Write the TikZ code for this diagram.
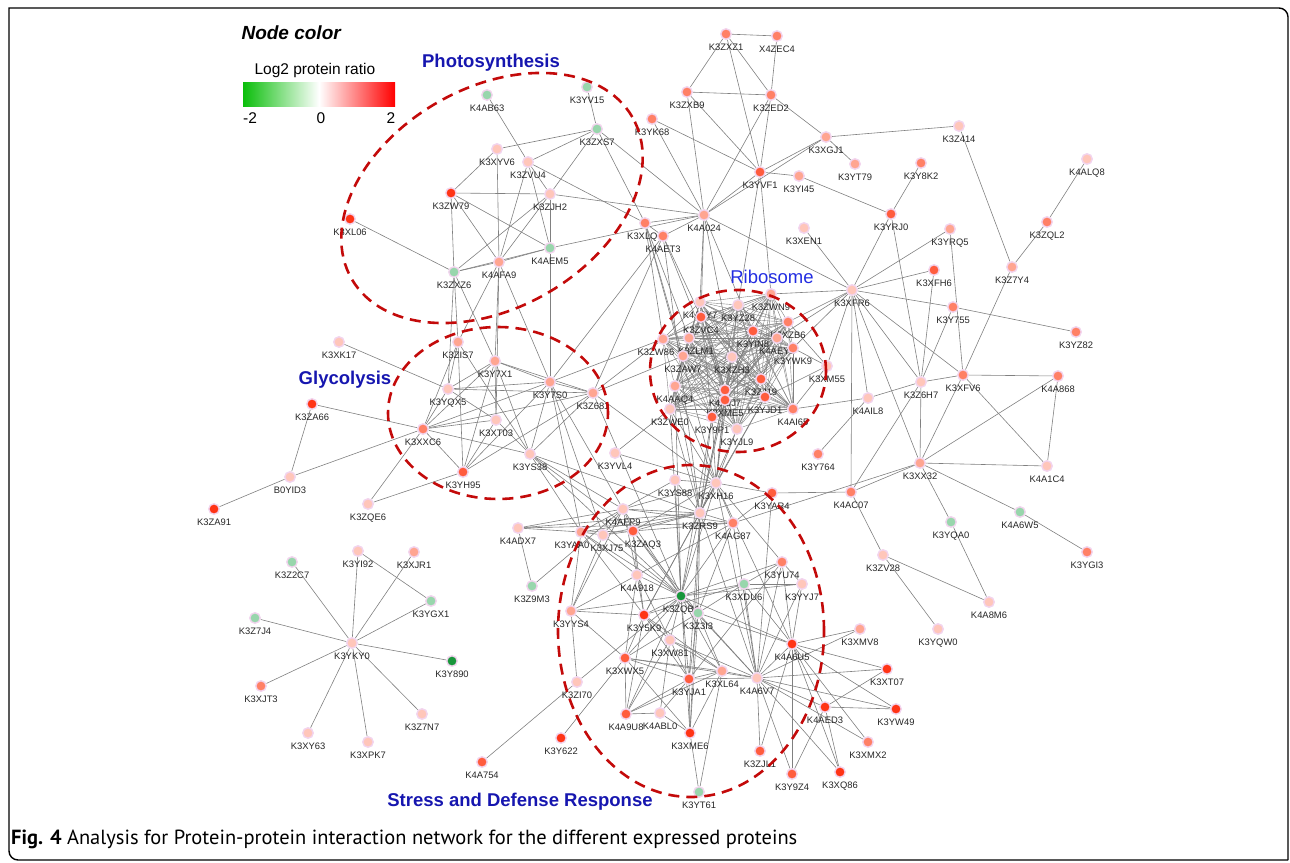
\documentclass[tikz,border=0pt]{standalone}
\usepackage{fontspec}
\setmainfont{Liberation Sans}
\newfontfamily\capfont{PT Sans}
\usepackage{graphicx}
\usetikzlibrary{backgrounds}

\definecolor{up1}{RGB}{255,198,186}
\definecolor{up2}{RGB}{255,165,145}
\definecolor{up3}{RGB}{255,128,102}
\definecolor{up4}{RGB}{255,92,62}
\definecolor{up5}{RGB}{255,52,22}
\definecolor{dn1}{RGB}{152,214,172}
\definecolor{dn2}{RGB}{25,150,60}
\definecolor{halo}{RGB}{242,212,238}
\definecolor{linkgray}{RGB}{128,128,128}
\definecolor{grpred}{RGB}{195,10,10}
\definecolor{titleblue}{RGB}{22,22,175}
\definecolor{riboblue}{RGB}{35,45,225}
\definecolor{lgreen}{RGB}{10,190,10}

\newcommand{\ribolist}{K4A3Y7,K3ZVC4,K3YZ28,K3ZWN9,K3XZB6,K3YIN8,K3ZW86,K3ZLM1,K4AEY1,K3YWK9,K3ZAW7,K3XZH3,K4AAQ4,K3ZJ19,K4AJJ7,K3XME5,K3YJD1,K3ZWE0,K4AI65,K3Y9P1,K3YJL9}

\begin{document}
\begin{tikzpicture}[
			x=1pt, y=-1pt,
			prot/.style={circle, draw=halo, line width=1.4pt, minimum size=10.5pt, inner sep=0pt},
			r1/.style={fill=up1}, r2/.style={fill=up2}, r3/.style={fill=up3},
			r4/.style={fill=up4}, r5/.style={fill=up5},
			g1/.style={fill=dn1}, g2/.style={fill=dn2},
			every label/.style={font=\fontsize{9.4}{10}\selectfont, inner sep=0pt, text=black!85},
			label distance=4pt,
			link/.style={draw=linkgray, line width=0.6pt},
			grp/.style={draw=grpred, line width=2.6pt, dash pattern=on 11pt off 7pt},
			title/.style={font=\fontsize{18.5}{20}\selectfont\bfseries, text=titleblue},
			frame/.style={draw=black, line width=1.4pt}
			]
			\useasboundingbox (0,0) rectangle (1290,862);
			
			% Frame
			\draw[frame] (9,851) -- (9,8) -- (1279,8) arc[start angle=90, end angle=0, radius=9pt] -- (1288,860);
			\draw[frame] (9,851) arc[start angle=180, end angle=270, radius=9pt] -- (1288,860);
			
			% Legend
			\node[anchor=west, font=\fontsize{19}{20}\selectfont\bfseries\itshape] (legtitle) at (238,33) {Node color};
			\node[anchor=west, font=\fontsize{15.5}{16}\selectfont] (legname) at (251,70) {Log2 protein ratio};
			\shade[left color=lgreen, right color=red, middle color=white] (243,82) rectangle (395,106);
			\node[font=\fontsize{15.5}{16}\selectfont] (legmin) at (250,118) {-2};
			\node[font=\fontsize{15.5}{16}\selectfont] (legmid) at (321,118) {0};
			\node[font=\fontsize{15.5}{16}\selectfont] (legmax) at (391,118) {2};
			
			% Photosynthesis
			\node[prot, g1, label=below:K4AB63] (K4AB63) at (487,95) {};
			\node[prot, g1, label=below:K3YV15] (K3YV15) at (587,87) {};
			\node[prot, g1, label=below:K3ZXS7] (K3ZXS7) at (597,129) {};
			\node[prot, r1, label=below:K3XYV6] (K3XYV6) at (497,149) {};
			\node[prot, r1, label=below:K3ZVU4] (K3ZVU4) at (528,162) {};
			\node[prot, r5, label=below:K3ZW79] (K3ZW79) at (451,193) {};
			\node[prot, r1, label=below:K3ZJH2] (K3ZJH2) at (550,194) {};
			\node[prot, r5, label=below:K3XL06] (K3XL06) at (350,219) {};
			\node[prot, g1, label=below:K4AEM5] (K4AEM5) at (550,248) {};
			\node[prot, r2, label=below:K4AFA9] (K4AFA9) at (499,262) {};
			\node[prot, g1, label=below:K3ZXZ6] (K3ZXZ6) at (454,272) {};
			
			% Top hub
			\node[prot, r3, label=below:K3ZXZ1] (K3ZXZ1) at (726,34) {};
			\node[prot, r3, label=below:X4ZEC4] (X4ZEC4) at (777,36) {};
			\node[prot, r3, label=below:K3ZXB9] (K3ZXB9) at (687,92) {};
			\node[prot, r3, label=below:K3ZED2] (K3ZED2) at (771,95) {};
			\node[prot, r3, label=below:K3YK68] (K3YK68) at (652,119) {};
			\node[prot, r2, label=below:K3XGJ1] (K3XGJ1) at (826,137) {};
			\node[prot, r2, label=below:K3YT79] (K3YT79) at (855,164) {};
			\node[prot, r4, label=below:K3YVF1] (K3YVF1) at (760,172) {};
			\node[prot, r2, label=below:K3YI45] (K3YI45) at (799,176) {};
			\node[prot, r2, label=below:K4A024] (K4A024) at (704,215) {};
			\node[prot, r3, label=below:K3XLQ2] (K3XLQ2) at (645,223) {};
			\node[prot, r3, label=below:K4AET3] (K4AET3) at (663,236) {};
			\node[prot, r1, label=below:K3XEN1] (K3XEN1) at (804,228) {};
			
			% Right branch
			\node[prot, r1, label=below:K3Z414] (K3Z414) at (959,126) {};
			\node[prot, r3, label=below:K3Y8K2] (K3Y8K2) at (921,163) {};
			\node[prot, r1, label=below:K4ALQ8] (K4ALQ8) at (1087,159) {};
			\node[prot, r4, label=below:K3YRJ0] (K3YRJ0) at (891,214) {};
			\node[prot, r3, label=below:K3ZQL2] (K3ZQL2) at (1047,222) {};
			\node[prot, r2, label=below:K3YRQ5] (K3YRQ5) at (950,229) {};
			\node[prot, r4, label=below:K3XFH6] (K3XFH6) at (934,270) {};
			\node[prot, r2, label=below:K3Z7Y4] (K3Z7Y4) at (1012,267) {};
			\node[prot, r1, label=below:K3XFR6] (K3XFR6) at (852,290) {};
			\node[prot, r3, label=below:K3Y755] (K3Y755) at (953,307) {};
			\node[prot, r3, label=below:K3YZ82] (K3YZ82) at (1076,332) {};
			\node[prot, r1, label=below:K3XM55] (K3XM55) at (827,366) {};
			\node[prot, r3, label=below:K3XFV6] (K3XFV6) at (963,375) {};
			\node[prot, r3, label=below:K4A868] (K4A868) at (1058,376) {};
			\node[prot, r1, label=below:K3Z6H7] (K3Z6H7) at (921,382) {};
			\node[prot, r1, label=below:K4AIL8] (K4AIL8) at (868,398) {};
			\node[prot, r3, label=below:K3Y764] (K3Y764) at (818,454) {};
			\node[prot, r2, label=below:K3XX32] (K3XX32) at (920,463) {};
			\node[prot, r1, label=below:K4A1C4] (K4A1C4) at (1047,466) {};
			\node[prot, r3, label=below:K4AC07] (K4AC07) at (851,492) {};
			\node[prot, g1, label=below:K4A6W5] (K4A6W5) at (1020,512) {};
			\node[prot, g1, label=below:K3YQA0] (K3YQA0) at (951,522) {};
			\node[prot, r3, label=below:K3YGI3] (K3YGI3) at (1087,552) {};
			\node[prot, r1, label=below:K3ZV28] (K3ZV28) at (883,555) {};
			\node[prot, r1, label=below:K4A8M6] (K4A8M6) at (989,602) {};
			\node[prot, r1, label=below:K3YQW0] (K3YQW0) at (938,629) {};
			
			% Glycolysis
			\node[prot, r1, label=below:K3XK17] (K3XK17) at (339,342) {};
			\node[prot, r2, label=below:K3ZIS7] (K3ZIS7) at (458,342) {};
			\node[prot, r2, label=below:K3Y7X1] (K3Y7X1) at (495,361) {};
			\node[prot, r2, label=below:K3Y7S0] (K3Y7S0) at (550,382) {};
			\node[prot, r1, label=below:K3YQX5] (K3YQX5) at (448,389) {};
			\node[prot, r2, label=below:K3Z681] (K3Z681) at (593,393) {};
			\node[prot, r5, label=below:K3ZA66] (K3ZA66) at (312,404) {};
			\node[prot, r1, label=below:K3XT03] (K3XT03) at (496,420) {};
			\node[prot, r3, label=below:K3XXC6] (K3XXC6) at (423,429) {};
			\node[prot, r1, label=below:K3YS38] (K3YS38) at (530,454) {};
			\node[prot, r1, label=below:K3YVL4] (K3YVL4) at (615,453) {};
			\node[prot, r4, label=below:K3YH95] (K3YH95) at (463,472) {};
			\node[prot, r1, label=below:B0YID3] (B0YID3) at (290,477) {};
			\node[prot, r1, label=below:K3ZQE6] (K3ZQE6) at (368,504) {};
			\node[prot, r5, label=below:K3ZA91] (K3ZA91) at (214,509) {};
			
			% Star at bottom left
			\node[prot, r1, label=below:K3YI92] (K3YI92) at (358,551) {};
			\node[prot, r2, label=below:K3XJR1] (K3XJR1) at (414,552) {};
			\node[prot, g1, label=below:K3Z2C7] (K3Z2C7) at (292,562) {};
			\node[prot, g1, label=below:K3YGX1] (K3YGX1) at (431,601) {};
			\node[prot, g1, label=below:K3Z7J4] (K3Z7J4) at (255,618) {};
			\node[prot, r1, label=below:K3YKY0] (K3YKY0) at (352,643) {};
			\node[prot, g2, label=below:K3Y890] (K3Y890) at (452,661) {};
			\node[prot, r3, label=below:K3XJT3] (K3XJT3) at (261,686) {};
			\node[prot, r1, label=below:K3Z7N7] (K3Z7N7) at (422,714) {};
			\node[prot, r1, label=below:K3XY63] (K3XY63) at (308,733) {};
			\node[prot, r1, label=below:K3XPK7] (K3XPK7) at (368,742) {};
			\node[prot, r4, label=below:K4A754] (K4A754) at (482,762) {};
			
			% Stress and defense
			\node[prot, r1, label=below:K3YS88] (K3YS88) at (675,480) {};
			\node[prot, r1, label=below:K3XH16] (K3XH16) at (716,483) {};
			\node[prot, r4, label=below:K3YAR4] (K3YAR4) at (772,493) {};
			\node[prot, r1, label=below:K4AFP9] (K4AFP9) at (623,509) {};
			\node[prot, r1, label=below:K3ZRS9] (K3ZRS9) at (700,513) {};
			\node[prot, r3, label=below:K4AG87] (K4AG87) at (733,523) {};
			\node[prot, r1, label=below:K4ADX7] (K4ADX7) at (518,528) {};
			\node[prot, r2, label={[xshift=-9pt]below:K3YAA0}] (K3YAA0) at (581,532) {};
			\node[prot, r1, label={[xshift=4pt]below:K3XJ75}] (K3XJ75) at (603,535) {};
			\node[prot, r4, label={[xshift=10pt]below:K3ZAQ3}] (K3ZAQ3) at (633,531) {};
			\node[prot, r3, label=below:K3YU74] (K3YU74) at (782,562) {};
			\node[prot, r1, label=below:K4A918] (K4A918) at (637,575) {};
			\node[prot, g1, label=below:K3XDU6] (K3XDU6) at (744,584) {};
			\node[prot, r1, label=below:K3YYJ7] (K3YYJ7) at (802,584) {};
			\node[prot, g1, label=below:K3Z9M3] (K3Z9M3) at (532,586) {};
			\node[prot, g2, label=below:K3ZQB4] (K3ZQB4) at (681,596) {};
			\node[prot, r2, label=below:K3YYS4] (K3YYS4) at (571,611) {};
			\node[prot, g1, label=below:K3Z3I3] (K3Z3I3) at (698,613) {};
			\node[prot, r5, label=below:K3Y5K9] (K3Y5K9) at (644,615) {};
			\node[prot, r1, label=below:K3XW81] (K3XW81) at (670,640) {};
			\node[prot, r5, label=below:K4A6U5] (K4A6U5) at (792,644) {};
			\node[prot, r4, label=below:K3XWX5] (K3XWX5) at (625,658) {};
			\node[prot, r2, label=below:K3XMV8] (K3XMV8) at (860,629) {};
			\node[prot, r2, label=below:K3XL64] (K3XL64) at (722,671) {};
			\node[prot, r1, label=below:K4A6V7] (K4A6V7) at (757,678) {};
			\node[prot, r4, label=below:K3YJA1] (K3YJA1) at (689,679) {};
			\node[prot, r1, label=below:K3ZI70] (K3ZI70) at (577,682) {};
			\node[prot, r5, label=below:K3XT07] (K3XT07) at (887,669) {};
			\node[prot, r5, label=below:K4AED3] (K4AED3) at (825,707) {};
			\node[prot, r5, label=below:K3YW49] (K3YW49) at (896,709) {};
			\node[prot, r4, label=below:K4A9U8] (K4A9U8) at (626,714) {};
			\node[prot, r1, label=below:K4ABL0] (K4ABL0) at (660,713) {};
			\node[prot, r5, label=below:K3XME6] (K3XME6) at (690,733) {};
			\node[prot, r5, label=below:K3Y622] (K3Y622) at (561,738) {};
			\node[prot, r3, label=below:K3XMX2] (K3XMX2) at (868,742) {};
			\node[prot, r4, label=below:K3ZJL1] (K3ZJL1) at (760,751) {};
			\node[prot, r5, label=below:K3XQ86] (K3XQ86) at (840,772) {};
			\node[prot, r4, label=below:K3Y9Z4] (K3Y9Z4) at (792,774) {};
			\node[prot, g1, label=below:K3YT61] (K3YT61) at (699,792) {};
			
			% Ribosome
			\node[prot, r1, label=below:K4A3Y7] (K4A3Y7) at (700,302) {};
			\node[prot, r4, label=below:K3ZVC4] (K3ZVC4) at (701,317) {};
			\node[prot, r1, label=below:K3YZ28] (K3YZ28) at (738,305) {};
			\node[prot, r2, label=below:K3ZWN9] (K3ZWN9) at (771,294) {};
			\node[prot, r3, label=below:K3XZB6] (K3XZB6) at (788,322) {};
			\node[prot, r4, label=below:K3YIN8] (K3YIN8) at (753,331) {};
			\node[prot, r2, label={[xshift=-7pt]below:K3ZW86}] (K3ZW86) at (663,339) {};
			\node[prot, r2, label={[xshift=7pt]below:K3ZLM1}] (K3ZLM1) at (689,338) {};
			\node[prot, r2, label=below:K4AEY1] (K4AEY1) at (777,338) {};
			\node[prot, r3, label=below:K3YWK9] (K3YWK9) at (793,348) {};
			\node[prot, r2, label=below:K3ZAW7] (K3ZAW7) at (683,356) {};
			\node[prot, r1, label=below:K3XZH3] (K3XZH3) at (732,357) {};
			\node[prot, r2, label=below:K4AAQ4] (K4AAQ4) at (675,386) {};
			\node[prot, r4, label=below:K3ZJ19] (K3ZJ19) at (761,379) {};
			\node[prot, r4, label=below:K4AJJ7] (K4AJJ7) at (725,390) {};
			\node[prot, r4, label=below:K3XME5] (K3XME5) at (725,400) {};
			\node[prot, r4, label=below:K3YJD1] (K3YJD1) at (765,397) {};
			\node[prot, r1, label=below:K3ZWE0] (K3ZWE0) at (670,409) {};
			\node[prot, r3, label=below:K4AI65] (K4AI65) at (793,409) {};
			\node[prot, r4, label=below:K3Y9P1] (K3Y9P1) at (712,417) {};
			\node[prot, r1, label=below:K3YJL9] (K3YJL9) at (737,429) {};
			
			% Links
			\begin{scope}[on background layer, every edge/.style={link}]
			% Photosynthesis links
			\path (K4AB63) edge (K3ZVU4);
			\path (K3YV15) edge (K3ZXS7);
			\path (K3ZXS7) edge (K3XYV6) edge (K3ZVU4) edge (K3ZJH2) edge (K3XLQ2) edge (K4A024);
			\path (K3XYV6) edge (K3ZW79) edge (K4AFA9);
			\path (K3ZVU4) edge (K4AFA9) edge (K3XLQ2) edge (K4AEM5) edge (K3ZJH2);
			\path (K3ZW79) edge (K3ZJH2) edge (K4AEM5) edge (K4AFA9) edge (K3ZXZ6);
			\path (K3ZJH2) edge (K4AEM5) edge (K4A024) edge (K3ZXZ6) edge (K4AFA9);
			\path (K4AEM5) edge (K3ZXZ6) edge (K4AFA9) edge (K4A024) edge (K3Y7S0);
			\path (K3XL06) edge (K3ZXZ6);
			\path (K3ZXZ6) edge (K4AFA9) edge (K3ZIS7) edge (K3Y7X1) edge (K3YQX5);
			\path (K4AFA9) edge (K3ZIS7) edge (K3Y7X1) edge (K3Y7S0) edge (K3XT03);
			% Top hub links
			\path (K3ZXZ1) edge (X4ZEC4) edge (K3ZXB9) edge (K3ZED2) edge (K3YVF1);
			\path (X4ZEC4) edge (K3ZED2);
			\path (K3ZXB9) edge (K3ZED2) edge (K4A024) edge (K3YVF1);
			\path (K3ZED2) edge (K3YVF1) edge (K3XGJ1) edge (K4A024);
			\path (K3YK68) edge (K3YVF1) edge (K4A024);
			\path (K3YVF1) edge (K4A024) edge (K3XGJ1) edge (K3YI45) edge (K3YZ28) edge (K3ZWN9);
			\path (K3XGJ1) edge (K4A024) edge (K3Z414) edge (K3YT79);
			\path (K3YI45) edge (K3YRJ0);
			\path (K4A024) edge (K3XLQ2) edge (K4AET3) edge (K3XFR6) edge (K3ZVC4) edge (K3XZH3) edge (K3YIN8) edge (K4A3Y7);
			\path (K3XLQ2) edge (K4AET3) edge (K3ZW86) edge (K3ZLM1) edge (K3XH16) edge (K3ZAW7);
			\path (K4AET3) edge (K3Y7S0) edge (K3Z681) edge (K3ZVC4) edge (K4AJJ7) edge (K3ZRS9);
			\path (K3XEN1) edge (K3XFR6);
			% Right branch links
			\path (K3Z414) edge (K3Z7Y4);
			\path (K4ALQ8) edge (K3ZQL2);
			\path (K3ZQL2) edge (K3Z7Y4);
			\path (K3Z7Y4) edge (K3XFV6);
			\path (K3Y8K2) edge (K3YRJ0);
			\path (K3YRJ0) edge (K3XFR6) edge (K3Z6H7);
			\path (K3YRQ5) edge (K3XFR6) edge (K3XFV6);
			\path (K3XFH6) edge (K3XFR6) edge (K3Z6H7);
			\path (K3XFR6) edge (K3Y755) edge (K3Z6H7) edge (K3XFV6) edge (K4AIL8) edge (K3XX32) edge (K4AC07) edge (K3XM55) edge (K3ZWN9) edge (K3XZB6) edge (K3YWK9) edge (K4AEY1);
			\path (K3Y755) edge (K3YZ82) edge (K3Z6H7);
			\path (K3Z6H7) edge (K3XFV6) edge (K4AIL8) edge (K3XX32) edge (K4AC07);
			\path (K3XFV6) edge (K4A868) edge (K3XX32) edge (K4A1C4);
			\path (K4A868) edge (K3XX32) edge (K4A1C4);
			\path (K3XX32) edge (K4A1C4) edge (K4AC07) edge (K3YQA0) edge (K4A6W5) edge (K4AG87);
			\path (K4A6W5) edge (K3YGI3);
			\path (K3YQA0) edge (K4A8M6);
			\path (K4AC07) edge (K3ZV28) edge (K3YAR4);
			\path (K3ZV28) edge (K4A8M6) edge (K3YQW0);
			\path (K4AIL8) edge (K3Y764) edge (K4AI65);
			\path (K3XM55) edge (K3YWK9) edge (K4AI65) edge (K3XZB6) edge (K3YJD1);
			% Glycolysis links
			\path (K3XK17) edge (K3YQX5);
			\path (K3ZA66) edge (K3XXC6) edge (B0YID3);
			\path (B0YID3) edge (K3XXC6) edge (K3ZA91);
			\path (K3ZQE6) edge (K3XXC6) edge (K3YH95);
			\path (K3XXC6) edge (K3ZIS7) edge (K3Y7X1) edge (K3YQX5) edge (K3Y7S0) edge (K3Z681) edge (K3XT03) edge (K3YS38) edge (K3YH95);
			\path (K3ZIS7) edge (K3YQX5) edge (K3YH95) edge (K3YS38);
			\path (K3Y7X1) edge (K3YQX5) edge (K3Y7S0) edge (K3Z681) edge (K3XT03) edge (K3YS38) edge (K3YH95);
			\path (K3YQX5) edge (K3Y7S0) edge (K3Z681) edge (K3XT03);
			\path (K3Y7S0) edge (K3Z681) edge (K3YH95) edge (K3YS38) edge (K3YAA0) edge (K3XJ75) edge (K4AFP9) edge (K3ZW86);
			\path (K3Z681) edge (K3YS38) edge (K3YH95) edge (K3ZW86) edge (K3ZAW7) edge (K3XH16) edge (K3ZQB4);
			\path (K3XT03) edge (K3YH95) edge (K3YS38);
			\path (K3YS38) edge (K4AFP9) edge (K3ZAQ3) edge (K3YAA0) edge (K3ZRS9) edge (K3ZQB4);
			\path (K3YVL4) edge (K3XH16) edge (K3ZWE0);
			% Star links
			\path (K3YKY0) edge (K3Z2C7) edge (K3YI92) edge (K3XJR1) edge (K3YGX1) edge (K3Z7J4) edge (K3Y890) edge (K3XJT3) edge (K3Z7N7) edge (K3XY63) edge (K3XPK7);
			\path (K3YI92) edge (K3YGX1);
			% Stress links
			\path (K4A754) edge (K3ZI70);
			\path (K3Y622) edge (K3XWX5);
			\path (K3ZI70) edge (K3ZQB4) edge (K3YYS4);
			\path (K4ADX7) edge (K3Z9M3) edge (K3YAA0) edge (K4AFP9) edge (K3ZRS9) edge (K4AG87);
			\path (K3Z9M3) edge (K4AFP9);
			\path (K3YS88) edge (K3ZRS9) edge (K4AFP9) edge (K3ZQB4) edge (K3XH16);
			\path (K3XH16) edge (K3YAR4) edge (K4AFP9) edge (K3ZRS9) edge (K4AG87) edge (K3ZQB4) edge (K4A6V7) edge (K4A6U5) edge (K3YU74) edge (K3ZAQ3) edge (K3Y5K9);
			\path (K3YAR4) edge (K4AG87) edge (K4A6V7) edge (K3ZRS9);
			\path (K3ZRS9) edge (K4AFP9) edge (K3ZAQ3) edge (K3XJ75) edge (K3YAA0) edge (K3ZQB4) edge (K3Z3I3) edge (K3Y5K9) edge (K3YJA1) edge (K3XME6) edge (K4AG87) edge (K4A6V7);
			\path (K4AFP9) edge (K3ZAQ3) edge (K3XJ75) edge (K3YAA0) edge (K4AG87) edge (K3ZQB4) edge (K3YYS4) edge (K4A918);
			\path (K3YAA0) edge (K3XJ75) edge (K3ZAQ3) edge (K3YYS4) edge (K3ZQB4) edge (K3Y5K9) edge (K4A918);
			\path (K3XJ75) edge (K3ZAQ3) edge (K3ZQB4) edge (K3YYS4);
			\path (K3ZAQ3) edge (K4AG87) edge (K3ZQB4) edge (K4A918) edge (K3Y5K9) edge (K3Z3I3);
			\path (K4AG87) edge (K3ZQB4) edge (K3Z3I3) edge (K4A6V7) edge (K3YYS4);
			\path (K3ZQB4) edge (K3YYS4) edge (K3Y5K9) edge (K4A918) edge (K3XDU6) edge (K3YU74) edge (K3YYJ7) edge (K4A6U5) edge (K4A6V7) edge (K3XW81) edge (K3XWX5) edge (K3YJA1) edge (K3XL64) edge (K4A9U8) edge (K3XME6) edge (K3Z3I3);
			\path (K3Z3I3) edge (K3XDU6) edge (K3YJA1) edge (K3XL64) edge (K4A6V7) edge (K4A6U5) edge (K3XWX5) edge (K3XME6);
			\path (K3YU74) edge (K3XDU6) edge (K4A6V7) edge (K4A6U5) edge (K3YJA1) edge (K3YYJ7);
			\path (K3YYJ7) edge (K3XDU6) edge (K4A6U5) edge (K4A6V7);
			\path (K3XDU6) edge (K4A6U5) edge (K4A6V7) edge (K3Y5K9);
			\path (K3YYS4) edge (K3Y5K9) edge (K3XWX5);
			\path (K4A918) edge (K3Y5K9) edge (K3XWX5) edge (K3XW81);
			\path (K3Y5K9) edge (K3XWX5) edge (K3XW81) edge (K3YJA1) edge (K4A9U8) edge (K3XL64);
			\path (K3XWX5) edge (K4A9U8) edge (K3YJA1) edge (K3XL64) edge (K4A6V7) edge (K3XME6);
			\path (K3XW81) edge (K3YJA1) edge (K4A9U8) edge (K4ABL0) edge (K4A6V7) edge (K3XL64);
			\path (K3YJA1) edge (K3XME6) edge (K4A9U8) edge (K4ABL0) edge (K3XL64) edge (K4A6V7);
			\path (K3XL64) edge (K4A9U8) edge (K3XME6) edge (K3YT61) edge (K4A6V7);
			\path (K4A9U8) edge (K4ABL0);
			\path (K4ABL0) edge (K3XME6);
			\path (K3XME6) edge (K3YT61);
			\path (K4A6V7) edge (K4A6U5) edge (K3ZJL1) edge (K3Y9Z4) edge (K4AED3) edge (K3XT07) edge (K3YW49) edge (K3XMV8) edge (K3XMX2) edge (K3XQ86);
			\path (K4A6U5) edge (K3XMV8) edge (K3XT07) edge (K3YW49) edge (K4AED3) edge (K3XMX2) edge (K3XQ86) edge (K3Y9Z4) edge (K3ZJL1);
			\path (K4AED3) edge (K3XT07) edge (K3YW49) edge (K3XQ86) edge (K3Y9Z4);
			% Ribosome core
			\foreach \a [count=\i] in \ribolist {
				\foreach \b [count=\j] in \ribolist {
					\ifnum\j>\i \draw[link, line width=0.4pt] (\a) -- (\b); \fi
				}
			}
			\foreach \r in {K3Y9P1,K3YJL9,K3XME5,K4AJJ7,K4AAQ4,K3ZWE0,K3YJD1,K3XZH3}
				\path (\r) edge (K3XH16) edge (K3ZRS9);
			\path (K3ZQB4) edge (K3Y9P1) edge (K3ZWE0) edge (K4AAQ4);
			\end{scope}
			
			% Groups
			\draw[grp, rotate around={30:(492,198)}] (492,198) ellipse [x radius=162pt, y radius=110pt];
			\draw[grp] (498,413) ellipse [x radius=110pt, y radius=86pt];
			\draw[grp] (738,371) ellipse [x radius=88pt, y radius=81pt];
			\draw[grp] (691,631) ellipse [x radius=133pt, y radius=166pt];
			\node[title] (photo) at (491,63) {Photosynthesis};
			\node[title] (glyco) at (345,380) {Glycolysis};
			\node[font=\fontsize{18.5}{20}\selectfont, text=riboblue] (ribo) at (772,277) {Ribosome};
			\node[title] (stress) at (520,802) {Stress and Defense Response};
			
			% Caption
			\node[anchor=west, inner sep=0pt] (caption) at (11,839) {\resizebox{786pt}{!}{\capfont\textbf{Fig. 4} Analysis for Protein-protein interaction network for the different expressed proteins}};
			
		\end{tikzpicture}
\end{document}
